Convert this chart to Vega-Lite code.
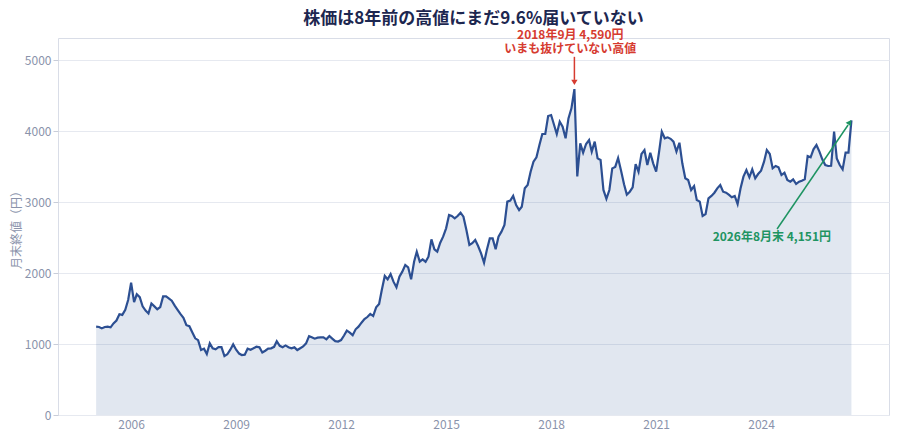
{
  "$schema": "https://vega.github.io/schema/vega-lite/v6.json",
  "width": 831,
  "height": 377,
  "autosize": {"type": "none"},
  "padding": {"left": 58, "top": 38, "right": 11, "bottom": 28},
  "background": "white",
  "config": {
    "font": "Noto Sans CJK JP",
    "view": {"stroke": "#d9dde7", "strokeWidth": 1}
  },
  "title": {
    "text": "株価は8年前の高値にまだ9.6%届いていない",
    "fontSize": 17,
    "fontWeight": "bold",
    "color": "#1d2750",
    "anchor": "middle",
    "offset": 0,
    "dy": -1
  },
  "datasets": {
    "price": [
      {"d": "2005-01-01", "v": 1245}, {"d": "2005-02-01", "v": 1240}, {"d": "2005-03-01", "v": 1220}, {"d": "2005-04-01", "v": 1240},
      {"d": "2005-05-01", "v": 1245}, {"d": "2005-06-01", "v": 1235}, {"d": "2005-07-01", "v": 1290}, {"d": "2005-08-01", "v": 1330},
      {"d": "2005-09-01", "v": 1420}, {"d": "2005-10-01", "v": 1410}, {"d": "2005-11-01", "v": 1480}, {"d": "2005-12-01", "v": 1620},
      {"d": "2006-01-01", "v": 1865}, {"d": "2006-02-01", "v": 1590}, {"d": "2006-03-01", "v": 1700}, {"d": "2006-04-01", "v": 1660},
      {"d": "2006-05-01", "v": 1530}, {"d": "2006-06-01", "v": 1470}, {"d": "2006-07-01", "v": 1430}, {"d": "2006-08-01", "v": 1570},
      {"d": "2006-09-01", "v": 1530}, {"d": "2006-10-01", "v": 1490}, {"d": "2006-11-01", "v": 1520}, {"d": "2006-12-01", "v": 1670},
      {"d": "2007-01-01", "v": 1670}, {"d": "2007-02-01", "v": 1640}, {"d": "2007-03-01", "v": 1610}, {"d": "2007-04-01", "v": 1540},
      {"d": "2007-05-01", "v": 1480}, {"d": "2007-06-01", "v": 1420}, {"d": "2007-07-01", "v": 1370}, {"d": "2007-08-01", "v": 1265},
      {"d": "2007-09-01", "v": 1250}, {"d": "2007-10-01", "v": 1165}, {"d": "2007-11-01", "v": 1080}, {"d": "2007-12-01", "v": 1055},
      {"d": "2008-01-01", "v": 915}, {"d": "2008-02-01", "v": 935}, {"d": "2008-03-01", "v": 860}, {"d": "2008-04-01", "v": 1010},
      {"d": "2008-05-01", "v": 940}, {"d": "2008-06-01", "v": 925}, {"d": "2008-07-01", "v": 955}, {"d": "2008-08-01", "v": 955},
      {"d": "2008-09-01", "v": 830}, {"d": "2008-10-01", "v": 855}, {"d": "2008-11-01", "v": 920}, {"d": "2008-12-01", "v": 995},
      {"d": "2009-01-01", "v": 920}, {"d": "2009-02-01", "v": 865}, {"d": "2009-03-01", "v": 845}, {"d": "2009-04-01", "v": 850},
      {"d": "2009-05-01", "v": 935}, {"d": "2009-06-01", "v": 920}, {"d": "2009-07-01", "v": 940}, {"d": "2009-08-01", "v": 962},
      {"d": "2009-09-01", "v": 953}, {"d": "2009-10-01", "v": 880}, {"d": "2009-11-01", "v": 905}, {"d": "2009-12-01", "v": 935},
      {"d": "2010-01-01", "v": 939}, {"d": "2010-02-01", "v": 960}, {"d": "2010-03-01", "v": 1040}, {"d": "2010-04-01", "v": 975},
      {"d": "2010-05-01", "v": 955}, {"d": "2010-06-01", "v": 980}, {"d": "2010-07-01", "v": 955}, {"d": "2010-08-01", "v": 940},
      {"d": "2010-09-01", "v": 953}, {"d": "2010-10-01", "v": 915}, {"d": "2010-11-01", "v": 940}, {"d": "2010-12-01", "v": 965},
      {"d": "2011-01-01", "v": 1009}, {"d": "2011-02-01", "v": 1110}, {"d": "2011-03-01", "v": 1095}, {"d": "2011-04-01", "v": 1075},
      {"d": "2011-05-01", "v": 1090}, {"d": "2011-06-01", "v": 1094}, {"d": "2011-07-01", "v": 1094}, {"d": "2011-08-01", "v": 1066},
      {"d": "2011-09-01", "v": 1113}, {"d": "2011-10-01", "v": 1075}, {"d": "2011-11-01", "v": 1040}, {"d": "2011-12-01", "v": 1035},
      {"d": "2012-01-01", "v": 1056}, {"d": "2012-02-01", "v": 1120}, {"d": "2012-03-01", "v": 1188}, {"d": "2012-04-01", "v": 1160},
      {"d": "2012-05-01", "v": 1125}, {"d": "2012-06-01", "v": 1207}, {"d": "2012-07-01", "v": 1244}, {"d": "2012-08-01", "v": 1300},
      {"d": "2012-09-01", "v": 1350}, {"d": "2012-10-01", "v": 1380}, {"d": "2012-11-01", "v": 1423}, {"d": "2012-12-01", "v": 1394},
      {"d": "2013-01-01", "v": 1516}, {"d": "2013-02-01", "v": 1563}, {"d": "2013-03-01", "v": 1761}, {"d": "2013-04-01", "v": 1958},
      {"d": "2013-05-01", "v": 1911}, {"d": "2013-06-01", "v": 1986}, {"d": "2013-07-01", "v": 1878}, {"d": "2013-08-01", "v": 1798},
      {"d": "2013-09-01", "v": 1948}, {"d": "2013-10-01", "v": 2019}, {"d": "2013-11-01", "v": 2113}, {"d": "2013-12-01", "v": 2080},
      {"d": "2014-01-01", "v": 1911}, {"d": "2014-02-01", "v": 2159}, {"d": "2014-03-01", "v": 2300}, {"d": "2014-04-01", "v": 2160},
      {"d": "2014-05-01", "v": 2193}, {"d": "2014-06-01", "v": 2159}, {"d": "2014-07-01", "v": 2230}, {"d": "2014-08-01", "v": 2474},
      {"d": "2014-09-01", "v": 2334}, {"d": "2014-10-01", "v": 2300}, {"d": "2014-11-01", "v": 2427}, {"d": "2014-12-01", "v": 2512},
      {"d": "2015-01-01", "v": 2629}, {"d": "2015-02-01", "v": 2817}, {"d": "2015-03-01", "v": 2803}, {"d": "2015-04-01", "v": 2770},
      {"d": "2015-05-01", "v": 2803}, {"d": "2015-06-01", "v": 2850}, {"d": "2015-07-01", "v": 2793}, {"d": "2015-08-01", "v": 2606},
      {"d": "2015-09-01", "v": 2394}, {"d": "2015-10-01", "v": 2420}, {"d": "2015-11-01", "v": 2465}, {"d": "2015-12-01", "v": 2380},
      {"d": "2016-01-01", "v": 2277}, {"d": "2016-02-01", "v": 2145}, {"d": "2016-03-01", "v": 2324}, {"d": "2016-04-01", "v": 2488},
      {"d": "2016-05-01", "v": 2488}, {"d": "2016-06-01", "v": 2334}, {"d": "2016-07-01", "v": 2512}, {"d": "2016-08-01", "v": 2582},
      {"d": "2016-09-01", "v": 2676}, {"d": "2016-10-01", "v": 3005}, {"d": "2016-11-01", "v": 3019}, {"d": "2016-12-01", "v": 3085},
      {"d": "2017-01-01", "v": 2958}, {"d": "2017-02-01", "v": 2887}, {"d": "2017-03-01", "v": 2934}, {"d": "2017-04-01", "v": 3193},
      {"d": "2017-05-01", "v": 3239}, {"d": "2017-06-01", "v": 3427}, {"d": "2017-07-01", "v": 3568}, {"d": "2017-08-01", "v": 3630},
      {"d": "2017-09-01", "v": 3803}, {"d": "2017-10-01", "v": 3958}, {"d": "2017-11-01", "v": 3958}, {"d": "2017-12-01", "v": 4211},
      {"d": "2018-01-01", "v": 4225}, {"d": "2018-02-01", "v": 4085}, {"d": "2018-03-01", "v": 3958}, {"d": "2018-04-01", "v": 4131},
      {"d": "2018-05-01", "v": 4061}, {"d": "2018-06-01", "v": 3897}, {"d": "2018-07-01", "v": 4178}, {"d": "2018-08-01", "v": 4319},
      {"d": "2018-09-01", "v": 4590}, {"d": "2018-10-01", "v": 3360}, {"d": "2018-11-01", "v": 3826}, {"d": "2018-12-01", "v": 3695},
      {"d": "2019-01-01", "v": 3817}, {"d": "2019-02-01", "v": 3873}, {"d": "2019-03-01", "v": 3709}, {"d": "2019-04-01", "v": 3850},
      {"d": "2019-05-01", "v": 3615}, {"d": "2019-06-01", "v": 3592}, {"d": "2019-07-01", "v": 3170}, {"d": "2019-08-01", "v": 3045},
      {"d": "2019-09-01", "v": 3169}, {"d": "2019-10-01", "v": 3474}, {"d": "2019-11-01", "v": 3495}, {"d": "2019-12-01", "v": 3620},
      {"d": "2020-01-01", "v": 3440}, {"d": "2020-02-01", "v": 3250}, {"d": "2020-03-01", "v": 3105}, {"d": "2020-04-01", "v": 3145},
      {"d": "2020-05-01", "v": 3207}, {"d": "2020-06-01", "v": 3535}, {"d": "2020-07-01", "v": 3427}, {"d": "2020-08-01", "v": 3676},
      {"d": "2020-09-01", "v": 3732}, {"d": "2020-10-01", "v": 3521}, {"d": "2020-11-01", "v": 3695}, {"d": "2020-12-01", "v": 3545},
      {"d": "2021-01-01", "v": 3427}, {"d": "2021-02-01", "v": 3709}, {"d": "2021-03-01", "v": 3990}, {"d": "2021-04-01", "v": 3897},
      {"d": "2021-05-01", "v": 3911}, {"d": "2021-06-01", "v": 3890}, {"d": "2021-07-01", "v": 3850}, {"d": "2021-08-01", "v": 3709},
      {"d": "2021-09-01", "v": 3835}, {"d": "2021-10-01", "v": 3545}, {"d": "2021-11-01", "v": 3334}, {"d": "2021-12-01", "v": 3310},
      {"d": "2022-01-01", "v": 3169}, {"d": "2022-02-01", "v": 3225}, {"d": "2022-03-01", "v": 3028}, {"d": "2022-04-01", "v": 3005},
      {"d": "2022-05-01", "v": 2803}, {"d": "2022-06-01", "v": 2831}, {"d": "2022-07-01", "v": 3052}, {"d": "2022-08-01", "v": 3085},
      {"d": "2022-09-01", "v": 3131}, {"d": "2022-10-01", "v": 3193}, {"d": "2022-11-01", "v": 3239}, {"d": "2022-12-01", "v": 3145},
      {"d": "2023-01-01", "v": 3131}, {"d": "2023-02-01", "v": 3099}, {"d": "2023-03-01", "v": 3066}, {"d": "2023-04-01", "v": 3085},
      {"d": "2023-05-01", "v": 2972}, {"d": "2023-06-01", "v": 3193}, {"d": "2023-07-01", "v": 3357}, {"d": "2023-08-01", "v": 3451},
      {"d": "2023-09-01", "v": 3348}, {"d": "2023-10-01", "v": 3460}, {"d": "2023-11-01", "v": 3334}, {"d": "2023-12-01", "v": 3394},
      {"d": "2024-01-01", "v": 3441}, {"d": "2024-02-01", "v": 3568}, {"d": "2024-03-01", "v": 3732}, {"d": "2024-04-01", "v": 3676},
      {"d": "2024-05-01", "v": 3474}, {"d": "2024-06-01", "v": 3507}, {"d": "2024-07-01", "v": 3488}, {"d": "2024-08-01", "v": 3380},
      {"d": "2024-09-01", "v": 3413}, {"d": "2024-10-01", "v": 3310}, {"d": "2024-11-01", "v": 3286}, {"d": "2024-12-01", "v": 3320},
      {"d": "2025-01-01", "v": 3254}, {"d": "2025-02-01", "v": 3286}, {"d": "2025-03-01", "v": 3300}, {"d": "2025-04-01", "v": 3320},
      {"d": "2025-05-01", "v": 3648}, {"d": "2025-06-01", "v": 3629}, {"d": "2025-07-01", "v": 3742}, {"d": "2025-08-01", "v": 3803},
      {"d": "2025-09-01", "v": 3709}, {"d": "2025-10-01", "v": 3601}, {"d": "2025-11-01", "v": 3521}, {"d": "2025-12-01", "v": 3507},
      {"d": "2026-01-01", "v": 3510}, {"d": "2026-02-01", "v": 3990}, {"d": "2026-03-01", "v": 3615}, {"d": "2026-04-01", "v": 3521},
      {"d": "2026-05-01", "v": 3460}, {"d": "2026-06-01", "v": 3695}, {"d": "2026-07-01", "v": 3695}, {"d": "2026-08-01", "v": 4151}
    ],
    "peakText": [
      {"d": "2018-07-20", "v": 5358, "t": "2018年9月 4,590円\nいまも抜けていない高値"}
    ],
    "peakArrow": [{"d": "2018-09-01", "v": 5045, "d2": "2018-09-01", "v2": 4720}],
    "peakHead": [{"d": "2018-09-01", "v": 4685}],
    "lastText": [{"d": "2024-04-22", "v": 2503, "t": "2026年8月末 4,151円"}],
    "lastArrow": [{"d": "2024-06-16", "v": 2620, "d2": "2026-06-27", "v2": 4085}],
    "lastHead": [{"d": "2026-07-15", "v": 4123}]
  },
  "encoding": {
    "x": {
      "field": "d",
      "type": "temporal",
      "title": null,
      "scale": {"domain": ["2003-11-30", "2027-08-28"], "nice": false},
      "axis": {
        "values": ["2006-01-01", "2009-01-01", "2012-01-01", "2015-01-01", "2018-01-01", "2021-01-01", "2024-01-01"],
        "format": "%Y",
        "grid": false,
        "domain": false,
        "ticks": false,
        "labelPadding": 4,
        "labelColor": "#8a93ab",
        "labelFontSize": 12
      }
    },
    "y": {
      "field": "v",
      "type": "quantitative",
      "title": "月末終値（円）",
      "scale": {"domain": [0, 5310], "nice": false},
      "axis": {
        "values": [0, 1000, 2000, 3000, 4000, 5000],
        "format": "d",
        "domain": false,
        "tickColor": "#c8cdd9",
        "tickSize": 5,
        "labelPadding": 2,
        "labelColor": "#8a93ab",
        "labelFontSize": 12,
        "gridColor": "#e6e9f0",
        "titleColor": "#8a93ab",
        "titleFontSize": 12,
        "titleFontWeight": "normal",
        "titlePadding": 1
      }
    }
  },
  "layer": [
    {
      "data": {"name": "price"},
      "mark": {"type": "area", "color": "#2c5496", "fillOpacity": 0.14}
    },
    {
      "data": {"name": "price"},
      "mark": {"type": "line", "color": "#2c4f92", "strokeWidth": 2.2}
    },
    {
      "data": {"name": "peakArrow"},
      "mark": {"type": "rule", "color": "#d63b30", "strokeWidth": 1.5},
      "encoding": {
        "x2": {"field": "d2"},
        "y2": {"field": "v2"}
      }
    },
    {
      "data": {"name": "peakHead"},
      "mark": {"type": "point", "shape": "triangle-down", "filled": true, "color": "#d63b30", "size": 40, "opacity": 1}
    },
    {
      "data": {"name": "peakText"},
      "mark": {"type": "text", "color": "#d63b30", "fontSize": 12, "fontWeight": "bold", "baseline": "middle", "align": "center", "lineBreak": "\n", "lineHeight": 14},
      "encoding": {"text": {"field": "t"}}
    },
    {
      "data": {"name": "lastArrow"},
      "mark": {"type": "rule", "color": "#1e9462", "strokeWidth": 1.5},
      "encoding": {
        "x2": {"field": "d2"},
        "y2": {"field": "v2"}
      }
    },
    {
      "data": {"name": "lastHead"},
      "mark": {"type": "point", "shape": "triangle-up", "angle": 34, "filled": true, "color": "#1e9462", "size": 40, "opacity": 1}
    },
    {
      "data": {"name": "lastText"},
      "mark": {"type": "text", "color": "#1e9462", "fontSize": 12, "fontWeight": "bold", "baseline": "middle", "align": "center"},
      "encoding": {"text": {"field": "t"}}
    }
  ]
}
